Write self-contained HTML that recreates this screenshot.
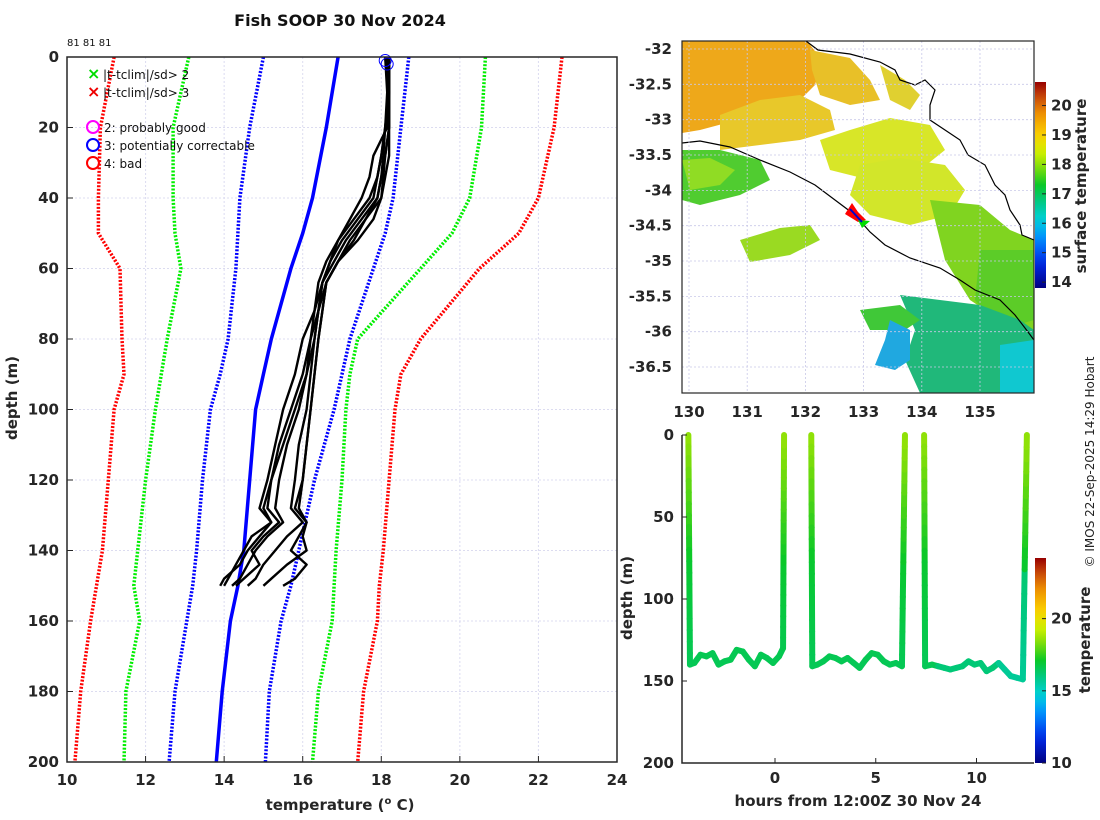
<!DOCTYPE html>
<html><head><meta charset="utf-8">
<style>
html,body{margin:0;padding:0;background:#fff;}
svg{display:block;font-family:"DejaVu Sans","Liberation Sans",sans-serif;}
.tk{font-size:15px;font-weight:bold;fill:#262626;}
.lab{font-size:15px;font-weight:bold;fill:#262626;}
</style></head>
<body>
<svg id="fig" width="1100" height="820" viewBox="0 0 1100 820" xmlns="http://www.w3.org/2000/svg">
<defs>
<linearGradient id="cbarMap" x1="0" y1="1" x2="0" y2="0"></linearGradient>
<linearGradient id="cbarBot" x1="0" y1="1" x2="0" y2="0"></linearGradient>
<clipPath id="mapclip"><rect x="682" y="41" width="352" height="352"/></clipPath>
<clipPath id="mainclip"><rect x="67" y="57" width="550" height="705"/></clipPath>
</defs>
<text x="340" y="26" text-anchor="middle" style="font-size:16px;font-weight:bold;fill:#111">Fish SOOP 30 Nov 2024</text>
<text x="67" y="46" style="font-size:10px;fill:#111">81 81 81</text>
<g id="main"></g>
<g id="map"></g>
<g id="bot"></g>
<text transform="translate(1094,462) rotate(-90)" text-anchor="middle" style="font-size:12px;fill:#222">© IMOS 22-Sep-2025 14:29 Hobart</text>
</svg>
<script>
// ---------- main profile chart data ----------
const climDepths = [0,20,40,50,60,80,90,100,120,140,150,160,180,200];
const redLeft   = [11.2,10.85,10.8,10.8,11.35,11.4,11.45,11.2,11.05,10.9,10.75,10.6,10.35,10.2];
const greenLeft = [13.1,12.7,12.7,12.75,12.9,12.55,12.4,12.25,12.0,11.8,11.7,11.85,11.5,11.45];
const blueLeft  = [15.0,14.65,14.4,14.35,14.3,14.1,13.9,13.65,13.45,13.3,13.2,13.05,12.75,12.6];
const meanLine  = [16.9,16.6,16.25,16.0,15.7,15.2,15.0,14.8,14.65,14.5,14.35,14.16,13.95,13.8];
const blueRight = [18.7,18.5,18.3,18.1,17.8,17.2,17.0,16.8,16.3,15.9,15.7,15.45,15.15,15.05];
const greenRight= [20.65,20.55,20.25,19.8,19.0,17.4,17.2,17.1,17.0,16.85,16.8,16.75,16.4,16.25];
const redRight  = [22.6,22.4,22.0,21.5,20.5,19.0,18.5,18.35,18.2,18.05,17.95,17.9,17.55,17.4];
const castDepths = [0,10,20,28,34,40,46,52,58,64,72,80,90,100,110,120,128,132,136,140,144,148,150];
const cast1 = [18.1,18.2,18.2,18.2,18.1,18.0,17.6,17.2,16.9,16.6,16.5,16.4,16.3,16.2,16.1,16.0,15.9,16.1,16.0,16.1,15.6,15.2,15.0];
const cast2 = [18.2,18.2,18.15,17.8,17.7,17.5,17.2,16.9,16.7,16.5,16.4,16.3,16.2,16.1,15.9,15.8,15.7,16.0,15.6,15.3,15.0,14.8,14.6];
const cast3 = [18.2,18.2,18.1,18.0,17.9,17.7,17.3,16.9,16.6,16.4,16.3,16.2,16.1,15.9,15.6,15.4,15.3,15.5,15.1,14.8,14.6,14.4,14.2];
const cast4 = [18.1,18.15,18.1,18.05,18.0,17.9,17.5,17.1,16.8,16.5,16.4,16.3,16.1,15.8,15.5,15.2,15.0,15.2,14.9,14.6,14.4,14.0,13.9];
const cast5 = [18.2,18.2,18.2,18.1,18.05,18.0,17.8,17.4,16.9,16.6,16.5,16.4,16.3,16.2,16.1,16.0,15.8,16.1,15.9,15.7,16.1,15.8,15.5];
const cast6 = [18.15,18.2,18.1,18.0,17.9,17.8,17.4,17.0,16.7,16.5,16.3,16.0,15.8,15.5,15.3,15.1,14.9,15.2,14.7,14.5,14.3,14.1,14.0];
const cast7 = [18.2,18.2,18.2,18.1,18.0,17.9,17.6,17.3,16.9,16.6,16.4,16.2,16.0,15.7,15.4,15.2,15.1,15.4,15.0,14.7,14.9,14.5,14.3];
const tempTicks = [10,12,14,16,18,20,22,24];
const depthTicks = [0,20,40,60,80,100,120,140,160,180,200];

// ---------- bottom chart data ----------
const seg1Hours  = [-4.3,-4.22,-4.0,-3.7,-3.4,-3.1,-2.8,-2.5,-2.2,-1.9,-1.6,-1.3,-1.0,-0.7,-0.4,-0.1,0.2,0.4,0.45];
const seg1Depths = [0,140,139,134,135,133,140,138,137,131,132,137,141,134,136,139,135,130,0];
const seg2Hours  = [1.8,1.85,2.1,2.4,2.7,3.0,3.3,3.6,3.9,4.2,4.5,4.8,5.1,5.4,5.7,6.0,6.3,6.45];
const seg2Depths = [0,141,140,138,135,136,138,136,139,142,137,133,134,138,140,139,141,0];
const seg3Hours  = [7.4,7.45,7.8,8.1,8.4,8.7,9.0,9.3,9.6,9.9,10.2,10.5,10.8,11.1,11.4,11.7,12.0,12.3,12.5];
const seg3Depths = [0,141,140,141,142,143,142,141,138,140,139,144,142,139,143,147,148,149,0];
const hourTicks = [0,5,10];
const botDepthTicks = [0,50,100,150,200];

// ---------- map data ----------
const latTicks = [-32,-32.5,-33,-33.5,-34,-34.5,-35,-35.5,-36,-36.5];
const lonTicks = [130,131,132,133,134,135];
const sstTicks = [14,15,16,17,18,19,20];
const botTempTicks = [10,15,20];

const NS='http://www.w3.org/2000/svg';
function mk(tag, attrs, parent){const e=document.createElementNS(NS,tag);for(const k in attrs)e.setAttribute(k,attrs[k]);if(parent)parent.appendChild(e);return e;}

const cmStops=[[0,[0,0,128]],[0.12,[0,40,230]],[0.24,[0,140,255]],[0.33,[0,210,220]],[0.42,[0,200,130]],[0.5,[10,200,40]],[0.58,[120,220,10]],[0.66,[210,240,0]],[0.74,[250,210,0]],[0.84,[240,150,0]],[0.93,[200,70,10]],[1,[150,0,0]]];
function cmap(t){t=Math.max(0,Math.min(1,t));for(let i=1;i<cmStops.length;i++){if(t<=cmStops[i][0]){const a=cmStops[i-1],b=cmStops[i];const f=(t-a[0])/(b[0]-a[0]);const c=a[1].map((v,j)=>Math.round(v+(b[1][j]-v)*f));return `rgb(${c[0]},${c[1]},${c[2]})`;}}return 'rgb(150,0,0)';}
['cbarMap','cbarBot'].forEach(id=>{const g=document.getElementById(id);for(let i=0;i<=20;i++){mk('stop',{offset:(i/20),'stop-color':cmap(i/20)},g);}});

// ===== main chart =====
const main=document.getElementById('main');
const X0=67,X1=617,Y0=57,Y1=762;
const xT=t=>X0+(t-10)/14*(X1-X0);
const yD=d=>Y0+d/200*(Y1-Y0);
tempTicks.forEach(t=>{const l=mk('line',{x1:xT(t),x2:xT(t),y1:Y0,y2:Y1,stroke:'#dcdcf0','stroke-width':1,'stroke-dasharray':'2 2'},main);

});
depthTicks.forEach(d=>{const l=mk('line',{x1:X0,x2:X1,y1:yD(d),y2:yD(d),stroke:'#dcdcf0','stroke-width':1,'stroke-dasharray':'2 2'},main);

});
const clipG=mk('g',{'clip-path':'url(#mainclip)'},main);
function profPath(depths,temps){return depths.map((d,i)=>(i?'L':'M')+xT(temps[i]).toFixed(1)+','+yD(d).toFixed(1)).join(' ');}
[[redLeft,'#ff0000','clim-3sd-lower'],[greenLeft,'#00ee00','clim-2sd-lower'],[blueLeft,'#0000ff','clim-1sd-lower'],[blueRight,'#0000ff','clim-1sd-upper'],[greenRight,'#00ee00','clim-2sd-upper'],[redRight,'#ff0000','clim-3sd-upper']].forEach(s=>{
const p=mk('path',{d:profPath(climDepths,s[0]),fill:'none',stroke:s[1],'stroke-width':3.5,'stroke-dasharray':'2 1.6'},clipG);

});
const mp=mk('path',{d:profPath(climDepths,meanLine),fill:'none',stroke:'#0000ff','stroke-width':3.5},clipG);


[cast1,cast2,cast3,cast4,cast5,cast6,cast7].forEach((c,i)=>{const p=mk('path',{d:profPath(castDepths,c),fill:'none',stroke:'#000','stroke-width':2.4,'stroke-linejoin':'round'},clipG);

});
[[18.1,1],[18.15,2]].forEach(m=>{const c=mk('circle',{cx:xT(m[0]),cy:yD(m[1]),r:6,fill:'none',stroke:'#0000ff','stroke-width':1},main);

});
const box=mk('rect',{x:X0,y:Y0,width:X1-X0,height:Y1-Y0,fill:'none',stroke:'#262626','stroke-width':1.5},main);


tempTicks.forEach(t=>{const e=mk('text',{x:xT(t),y:785,'text-anchor':'middle',class:'tk'},main);e.textContent=t;


mk('line',{x1:xT(t),x2:xT(t),y1:Y1,y2:Y1-6,stroke:'#262626'},main);});
depthTicks.forEach(d=>{const e=mk('text',{x:59,y:yD(d)+5,'text-anchor':'end',class:'tk'},main);e.textContent=d;


mk('line',{x1:X0,x2:X0+6,y1:yD(d),y2:yD(d),stroke:'#262626'},main);});
{const e=mk('text',{transform:'translate(17,398) rotate(-90)','text-anchor':'middle',class:'lab'},main);e.textContent='depth (m)';

}
{const e=mk('text',{x:340,y:810,'text-anchor':'middle',class:'lab'},main);e.innerHTML='temperature (<tspan dy="-6" style="font-size:10px">o</tspan><tspan dy="6"> C)</tspan>';

}
const leg=mk('g',{},main);


[['#00dd00',74,'|t-tclim|/sd> 2'],['#ee0000',92,'|t-tclim|/sd> 3']].forEach(r=>{
const m=mk('text',{x:87,y:r[1]+5,style:'font-size:16px;font-weight:bold;fill:'+r[0]},leg);m.textContent='×';
const t=mk('text',{x:103,y:r[1]+5,style:'font-size:12px;fill:#111'},leg);t.textContent=r[2];

});
[['#ff00ff',127,'2: probably good'],['#0000ff',145,'3: potentially correctable'],['#ff0000',163,'4: bad']].forEach(r=>{
mk('circle',{cx:93,cy:r[1],r:6,fill:'none',stroke:r[0],'stroke-width':2},leg);
const t=mk('text',{x:104,y:r[1]+5,style:'font-size:12px;fill:#111'},leg);t.textContent=r[2];

});

// ===== map =====
const map=document.getElementById('map');
const MX0=682,MX1=1034,MY0=41,MY1=393;
const xL=lon=>689+(lon-130)*58.2;
const yL=lat=>49+(-32-lat)*70.67;
const mg=mk('g',{'clip-path':'url(#mapclip)'},map);
mk('rect',{x:MX0,y:MY0,width:MX1-MX0,height:MY1-MY0,fill:'#fff'},mg);
function poly(pts,fill,name){const p=mk('polygon',{points:pts,fill:fill},mg);}
poly('682,41 807,41 822,60 815,85 800,100 770,112 730,122 700,130 682,133','#eea81a','sst-warm-patch');
poly('720,115 760,100 800,95 830,110 835,130 800,140 760,145 720,150','#e8c82a','sst-yellow-patch');
poly('810,50 850,58 870,80 880,100 850,105 820,95 812,70','#e8c028','sst-yellow-patch');
poly('880,65 905,80 920,95 910,110 890,100','#e0d030','sst-yellow-patch');
poly('820,140 850,130 890,118 930,125 945,150 920,170 870,180 830,170','#d8e628','sst-yellow-patch');
poly('860,165 900,158 945,165 965,190 950,215 910,225 870,215 850,195','#d2e62a','sst-yellow-patch');
poly('682,150 720,150 760,160 770,180 740,195 700,205 682,200','#50cc30','sst-green-patch');
poly('682,160 710,158 735,170 720,185 690,190','#90dc24','sst-green-patch');
poly('740,240 780,228 810,225 820,240 790,255 750,262','#9ada22','sst-green-patch');
poly('930,200 980,205 1010,230 1034,240 1034,330 1000,320 970,300 945,260','#80d420','sst-green-patch');
poly('980,250 1034,250 1034,320 1000,330 975,300','#5ccc28','sst-green-patch');
poly('900,295 940,300 980,305 1020,320 1034,330 1034,393 920,393 905,360 915,330','#20b87a','sst-teal-patch');
poly('860,310 900,305 920,320 905,330 870,330','#40c838','sst-green-patch');
poly('890,320 910,330 910,360 895,370 875,365 885,340','#20a8e0','sst-blue-patch');
poly('1000,345 1034,340 1034,393 1000,393','#10c8d0','sst-cyan-patch');
const coast1=mk('polyline',{points:'682,143 700,141 730,147 760,160 790,172 815,185 835,200 855,215 870,232 885,245 910,258 940,268 960,280 975,290 1000,300 1015,315 1025,328 1034,340',fill:'none',stroke:'#000','stroke-width':1.2},mg);


const coast2=mk('polyline',{points:'806,41 818,50 850,54 880,62 895,70 900,80 915,85 925,80 935,90 930,105 930,120 945,130 960,140 968,155 985,165 995,185 1005,195 1010,210 1020,225 1022,235 1034,240',fill:'none',stroke:'#000','stroke-width':1.2},mg);


lonTicks.forEach(l=>{mk('line',{x1:xL(l),x2:xL(l),y1:MY0,y2:MY1,stroke:'#c8c8e8','stroke-dasharray':'2 2','stroke-width':0.8},mg);});
latTicks.forEach(l=>{mk('line',{x1:MX0,x2:MX1,y1:yL(l),y2:yL(l),stroke:'#c8c8e8','stroke-dasharray':'2 2','stroke-width':0.8},mg);});
const trk=mk('polygon',{points:'845,214 852,203 858,212 866,220 858,222',fill:'#ff0000'},mg);


mk('polygon',{points:'858,220 870,221 862,228',fill:'#00dd00'},mg);
mk('line',{x1:850,y1:209,x2:862,y2:222,stroke:'#0000cc','stroke-width':2},mg);
const mbox=mk('rect',{x:MX0,y:MY0,width:MX1-MX0,height:MY1-MY0,fill:'none',stroke:'#262626','stroke-width':1.2},map);


latTicks.forEach(l=>{const e=mk('text',{x:672,y:yL(l)+5,'text-anchor':'end',class:'tk'},map);e.textContent=l;

});
lonTicks.forEach(l=>{const e=mk('text',{x:xL(l),y:417,'text-anchor':'middle',class:'tk'},map);e.textContent=l;

});
const cbY0=82,cbY1=288,cbMin=13.8,cbMax=20.8;
const yS=t=>cbY1-(t-cbMin)/(cbMax-cbMin)*(cbY1-cbY0);
const cb=mk('rect',{x:1035,y:cbY0,width:11,height:cbY1-cbY0,fill:'url(#cbarMap)'},map);


sstTicks.forEach(t=>{const e=mk('text',{x:1051,y:yS(t)+5,class:'tk'},map);e.textContent=t;


mk('line',{x1:1042,x2:1046,y1:yS(t),y2:yS(t),stroke:'#222'},map);});
{const e=mk('text',{transform:'translate(1086,186) rotate(-90)','text-anchor':'middle',class:'lab'},map);e.textContent='surface temperature';

}

// ===== bottom depth-time =====
const bot=document.getElementById('bot');
const BX0=682,BX1=1034,BY0=435,BY1=763;
const xH=h=>775+h*20.15;
const yB=d=>BY0+d/200*(BY1-BY0);
const bcMin=10,bcMax=24.2,bcY0=558,bcY1=763;
const yC=t=>bcY1-(t-bcMin)/(bcMax-bcMin)*(bcY1-bcY0);
const colT=t=>cmap((t-bcMin)/(bcMax-bcMin));
function tempAt(d,h){if(d<40)return 18.6-d*0.02;if(d<80)return 17.8-(d-40)*0.02;return 17.0-(d-80)*0.008-(h>8?0.4:0)-(h>11?0.4:0);}
[[seg1Hours,seg1Depths],[seg2Hours,seg2Depths],[seg3Hours,seg3Depths]].forEach((s,si)=>{
const H=s[0],D=s[1];
const g=mk('g',{},bot);


for(let i=0;i<H.length-1;i++){
const d0=D[i],d1=D[i+1];
const n=(Math.abs(d1-d0)>40)?20:1;
for(let k=0;k<n;k++){const a=k/n,b=(k+1)/n;const dd0=d0+(d1-d0)*a,dd1=d0+(d1-d0)*b;const hh0=H[i]+(H[i+1]-H[i])*a,hh1=H[i]+(H[i+1]-H[i])*b;
mk('line',{x1:xH(hh0),y1:yB(dd0),x2:xH(hh1),y2:yB(dd1),stroke:colT(tempAt((dd0+dd1)/2,hh0)),'stroke-width':6,'stroke-linecap':'round'},g);}
}});
const bax=mk('path',{d:`M${BX0},${BY0} V${BY1} H${BX1}`,fill:'none',stroke:'#262626','stroke-width':1.5},bot);


botDepthTicks.forEach(d=>{const e=mk('text',{x:674,y:yB(d)+5,'text-anchor':'end',class:'tk'},bot);e.textContent=d;


mk('line',{x1:BX0,x2:BX0+5,y1:yB(d),y2:yB(d),stroke:'#262626'},bot);});
hourTicks.forEach(h=>{const e=mk('text',{x:xH(h),y:783,'text-anchor':'middle',class:'tk'},bot);e.textContent=h;


mk('line',{x1:xH(h),x2:xH(h),y1:BY1,y2:BY1-5,stroke:'#262626'},bot);});
{const e=mk('text',{transform:'translate(632,598) rotate(-90)','text-anchor':'middle',class:'lab'},bot);e.textContent='depth (m)';

}
{const e=mk('text',{x:858,y:806,'text-anchor':'middle',class:'lab'},bot);e.textContent='hours from 12:00Z 30 Nov 24';

}
const cb2=mk('rect',{x:1035,y:bcY0,width:11,height:bcY1-bcY0,fill:'url(#cbarBot)'},bot);


botTempTicks.forEach(t=>{const e=mk('text',{x:1051,y:yC(t)+5,class:'tk'},bot);e.textContent=t;


mk('line',{x1:1042,x2:1046,y1:yC(t),y2:yC(t),stroke:'#222'},bot);});
{const e=mk('text',{transform:'translate(1090,640) rotate(-90)','text-anchor':'middle',class:'lab'},bot);e.textContent='temperature';

}
</script>
</body></html>
